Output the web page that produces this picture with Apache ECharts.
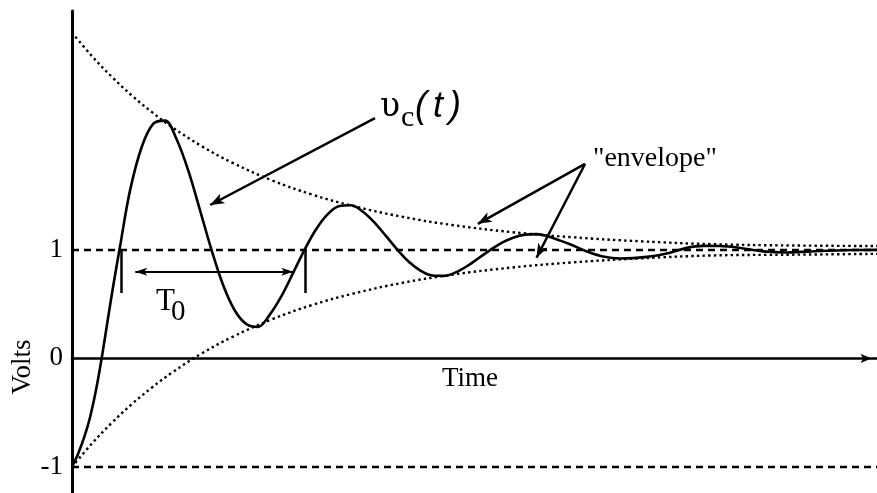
<!DOCTYPE html>
<html><head><meta charset="utf-8">
<script src="https://cdn.jsdelivr.net/npm/echarts@6/dist/echarts.min.js"></script>
<style>html,body{margin:0;padding:0;background:#fff}#c{width:877px;height:493px}</style>
</head><body><div id="c"></div>
<script>
// ---- data (time in arbitrary units, volts) ----
const tCurve = [0, 0.6, 1.2, 1.8, 2.4, 3.0, 3.6, 4.2, 4.8, 5.81, 6.98, 8.14, 9.3, 10.46, 11.63, 12.79, 13.95, 15.11, 16.28, 17.44, 18.6, 19.76, 20.93, 22.09, 23.25, 24.41, 25.58, 26.74, 27.9, 29.06, 30.23, 31.39, 32.55, 33.71, 34.88, 36.04, 37.2, 38.36, 39.53, 40.69, 41.85, 43.01, 44.18, 45.34, 46.5, 47.66, 48.83, 49.8, 51.5, 53.1, 54.8, 57.5, 59.8, 61.5, 63.1, 64.8, 66.5, 69.1, 71.5, 74.8, 78.1, 80.5];
const vCurve = [-1, -0.88, -0.733, -0.544, -0.292, 0.02, 0.37, 0.71, 1.03, 1.55, 1.95, 2.162, 2.19, 2.018, 1.729, 1.369, 1.0, 0.676, 0.441, 0.316, 0.29, 0.401, 0.571, 0.783, 1.0, 1.19, 1.329, 1.403, 1.41, 1.353, 1.253, 1.128, 1.0, 0.888, 0.806, 0.763, 0.76, 0.792, 0.851, 0.925, 1.0, 1.066, 1.114, 1.14, 1.145, 1.122, 1.085, 1.052, 0.985, 0.939, 0.92, 0.935, 0.974, 1.018, 1.036, 1.035, 1.022, 0.986, 0.976, 0.989, 0.998, 1.0];
const tEnv = [0, 2, 4, 6, 8, 10, 13, 16, 20, 24, 28, 33, 38, 44, 50, 57, 64, 72, 80.5];
const envUpper = [3.0, 2.784, 2.592, 2.42, 2.268, 2.131, 1.953, 1.804, 1.64, 1.509, 1.406, 1.305, 1.229, 1.163, 1.116, 1.078, 1.052, 1.04, 1.035];
const envLower = [-1.0, -0.784, -0.592, -0.42, -0.268, -0.131, 0.047, 0.196, 0.36, 0.491, 0.594, 0.695, 0.771, 0.837, 0.884, 0.922, 0.948, 0.955, 0.963];
const yTickValues = [-1, 0, 1];
const refLevels = [1, -1];
// annotation anchors (data units)
const vcArrow = [[30.3, 2.214], [13.2, 1.383]];
const envApex = [51.3, 1.791];
const envTips = [[39.97, 1.208], [46.13, 0.870]];
const periodTicks = [[4.95, 1.0, 0.602], [23.3, 1.0, 0.602]];
const periodArrow = [[5.73, 0.799], [22.73, 0.799]];

const blk = '#000';
const serif = 'Liberation Serif';
const chart = echarts.init(document.getElementById('c'), null, {renderer: 'canvas'});

function pairs(xs, ys) { return xs.map((x, i) => [x, ys[i]]); }

const dotted = {color: blk, width: 2.4, type: [2.4, 3.2], cap: 'butt'};

function txt(x, y, text, font, align, extra) {
  return Object.assign({
    type: 'text', x: x, y: y, silent: true,
    style: {text: text, font: font, fill: blk, align: align || 'left', verticalAlign: 'middle',
            textAlign: align || 'left', textVerticalAlign: 'middle'}
  }, extra || {});
}

const option = {
  animation: false,
  backgroundColor: '#fff',
  grid: {left: 72, right: 0, top: 11, bottom: 0, containLabel: false},
  xAxis: {
    type: 'value', min: 0, max: 80.5,
    axisLine: {show: true, onZero: true, symbol: ['none', 'arrow'], symbolSize: [7, 11], symbolOffset: [0, -5.5],
               lineStyle: {color: blk, width: 2.7}},
    axisTick: {show: false}, axisLabel: {show: false}, splitLine: {show: false}
  },
  yAxis: {
    type: 'value', min: -1.24, max: 3.2,
    axisLine: {show: true, onZero: true, lineStyle: {color: blk, width: 3}},
    axisTick: {show: false}, splitLine: {show: false},
    axisLabel: {show: true, customValues: yTickValues, fontFamily: serif, fontSize: 27, color: blk, margin: 9}
  },
  series: [
    {
      id: 'upper', type: 'line', data: pairs(tEnv, envUpper), smooth: 0.4, showSymbol: false, silent: true,
      lineStyle: dotted, z: 2
    },
    {
      id: 'lower', type: 'line', data: pairs(tEnv, envLower), smooth: 0.4, showSymbol: false, silent: true,
      lineStyle: dotted, z: 2
    },
    {
      id: 'ref', type: 'line', data: [], silent: true, z: 1,
      markLine: {
        silent: true, symbol: ['none', 'none'], label: {show: false},
        lineStyle: {color: blk, width: 2.4, type: [7, 5]},
        data: refLevels.map(v => ({yAxis: v}))
      }
    },
    {
      id: 'curve', type: 'line', data: pairs(tCurve, vCurve), smooth: 0.35, showSymbol: false, silent: true,
      lineStyle: {color: blk, width: 2.6}, z: 3
    }
  ],
  graphic: [
    txt(23, 367, 'Volts', '27px "Liberation Serif"', 'center', {rotation: Math.PI / 2}),
    txt(470, 379, 'Time', '27px "Liberation Serif"', 'center'),
    txt(593, 159, '"envelope"', '28px "Liberation Serif"', 'left'),
    txt(156, 301.5, 'T', '31px "Liberation Serif"', 'left'),
    txt(171, 312, '0', '29px "Liberation Serif"', 'left'),
    txt(380, 107.2, 'υ', '33px "DejaVu Serif"', 'left'),
    txt(401, 118, 'c', '30px "Liberation Serif"', 'left'),
    txt(415, 106.7, '(', 'italic 36px "Liberation Sans"', 'left'),
    txt(433, 106.7, 't', 'italic 36px "Liberation Sans"', 'left'),
    txt(449, 106.7, ')', 'italic 36px "Liberation Sans"', 'left')
  ]
};
chart.setOption(option);

// arrows: shorten line ends so that arrow tips land on the anchors
function shorten(from, to, px) {
  const a = chart.convertToPixel({gridIndex: 0}, from);
  const b = chart.convertToPixel({gridIndex: 0}, to);
  const dx = b[0] - a[0], dy = b[1] - a[1], L = Math.hypot(dx, dy);
  return chart.convertFromPixel({gridIndex: 0}, [b[0] - dx / L * px, b[1] - dy / L * px]);
}
const ls = (w) => ({color: blk, width: w, type: 'solid'});
function arrowItem(from, to, w, size) {
  const end = shorten(from, to, size[1] / 2);
  return [
    {coord: from, symbol: 'none', lineStyle: ls(w)},
    {coord: end, symbol: 'arrow', symbolSize: size, lineStyle: ls(w)}
  ];
}
const mlData = [];
mlData.push(arrowItem(vcArrow[0], vcArrow[1], 2.5, [8, 14]));
envTips.forEach(tip => mlData.push(arrowItem(envApex, tip, 2.5, [8, 14])));
const pa = periodArrow;
const pSize = [6, 12];
const pStart = shorten(pa[1], pa[0], pSize[1] / 2);
const pEnd = shorten(pa[0], pa[1], pSize[1] / 2);
mlData.push([
  {coord: pStart, symbol: 'arrow', symbolSize: pSize, lineStyle: ls(2.2)},
  {coord: pEnd, symbol: 'arrow', symbolSize: pSize, lineStyle: ls(2.2)}
]);
periodTicks.forEach(p => mlData.push([
  {coord: [p[0], p[1]], symbol: 'none', lineStyle: ls(2.5)},
  {coord: [p[0], p[2]], symbol: 'none', lineStyle: ls(2.5)}
]));
chart.setOption({series: [{id: 'curve', markLine: {silent: true, label: {show: false}, symbol: ['none', 'none'], data: mlData}}]});
</script></body></html>
